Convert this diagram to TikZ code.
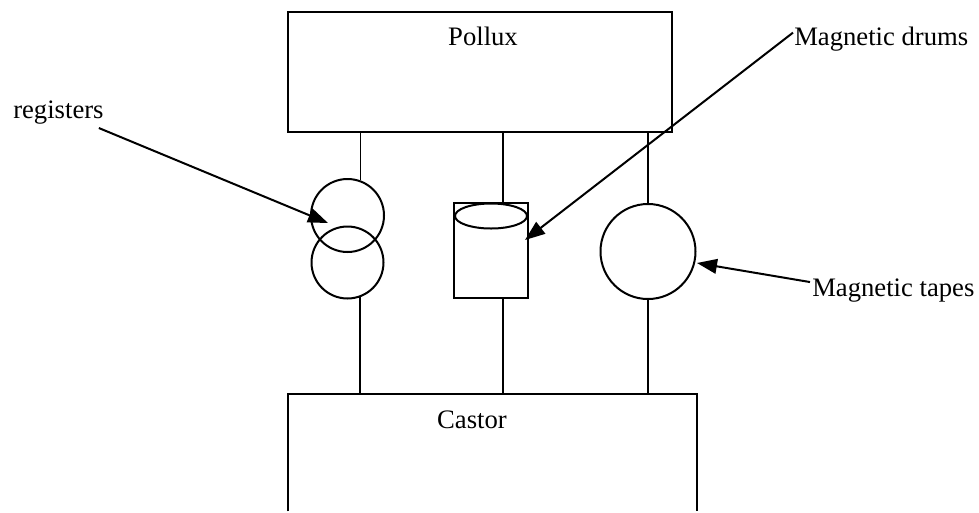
\documentclass[tikz,border=0pt]{standalone}
\usepackage{fontspec}
\setmainfont{Liberation Serif}
\usetikzlibrary{arrows.meta,fit,shapes.geometric}
\begin{document}
\begin{tikzpicture}[x=0.75pt,y=-0.75pt,
  shape line/.style={draw,line width=1.5pt},
  box/.style={shape line,rectangle,inner sep=0pt},
  disc/.style={shape line,circle,inner sep=0pt},
  bus/.style={line width=1.2pt},
  pointer/.style={line width=1.5pt,-{Triangle[length=15pt,width=11pt]}},
  lbl/.style={inner sep=0pt,font=\fontsize{20pt}{24pt}\selectfont}]
\useasboundingbox (0,0) rectangle (979,512);

% the two machines
\node[box,fit={(288,12) (672,132)}] (pollux) {};
\node[lbl,anchor=base] (polluxname) at (483,45) {Pollux};
\node[inner sep=0pt,fit={(288,394) (697,511)}] (castor) {};
\draw[line width=1.5pt] (castor.south west) |- (castor.north east) -- (castor.south east);
\node[lbl,anchor=base] (castorname) at (472,428) {Castor};

% bus column of the drum
\coordinate (col2) at (503,0);

% registers: two overlapping circles
\node[disc,minimum size=54.75pt] (regA) at (347.5,215.5) {};
\node[disc,minimum size=54pt] (regB) at (347.5,262.5) {};

% magnetic drum: box with an elliptic top
\node[box,fit={(454,203) (528,298)}] (drum) {};
\node[shape line,ellipse,inner sep=0pt,minimum width=54pt,minimum height=18.75pt] (drumtop) at (491,216) {};

% magnetic tape reel
\node[disc,minimum size=71.25pt] (tape) at (648,251.5) {};

% connections between the machines through the stores
\draw[bus] (regA.70.2) -- (regA.70.2 |- pollux.south);
\draw[bus] (regB.-70.5) -- (regB.-70.5 |- castor.north);
\draw[bus] (drum.north -| col2) -- (pollux.south -| col2);
\draw[bus] (drum.south -| col2) -- (castor.north -| col2);
\draw[bus] (tape.north) -- (tape.north |- pollux.south);
\draw[bus] (tape.south) -- (tape.south |- castor.north);

% labels with pointers
\node[lbl,anchor=base west] (reglbl) at (13,118) {registers};
\node[lbl,anchor=base west] (drumlbl) at (794,45) {Magnetic drums};
\node[lbl,anchor=base west] (tapelbl) at (812,296) {Magnetic tapes};

\coordinate (regtip) at (328,223);
\coordinate (drumtip) at (525,240);
\coordinate (tapetip) at (697,263);

\draw[pointer] ([shift={(-5,4)}]reglbl.south east) -- (regtip);
\draw[pointer] ([shift={(-1,-6)}]drumlbl.west) -- (drumtip);
\draw[pointer] ([shift={(-2,-8)}]tapelbl.west) -- (tapetip);
\end{tikzpicture}
\end{document}
